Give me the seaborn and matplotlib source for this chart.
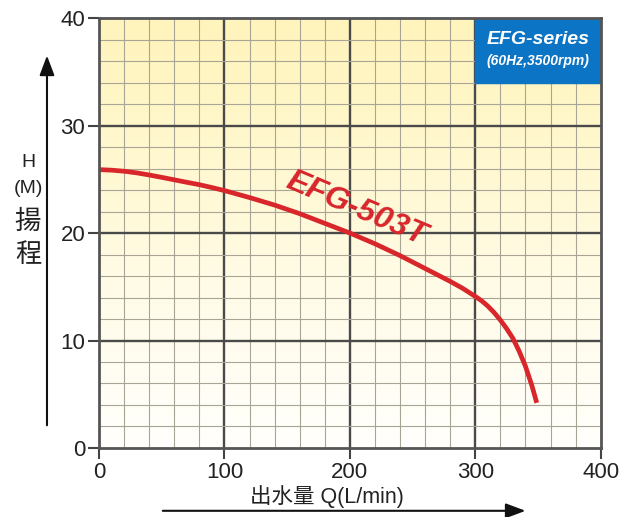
import numpy as np
import pandas as pd
import matplotlib
matplotlib.use('Agg')
import matplotlib.pyplot as plt
from matplotlib.colors import LinearSegmentedColormap
import seaborn as sns

# pump curve
flow = [0, 10, 20, 30, 40, 50, 60, 70, 80, 90, 100, 120, 140, 160, 180, 200,
        220, 240, 260, 280, 290, 300, 305, 310, 315, 320, 325, 330, 335, 340,
        345, 349]
head = [25.9, 25.85, 25.75, 25.6, 25.4, 25.18, 24.95, 24.72, 24.5, 24.23,
        23.95, 23.3, 22.6, 21.8, 20.9, 20.0, 19.0, 17.9, 16.7, 15.5, 14.85,
        14.1, 13.7, 13.2, 12.6, 11.9, 11.1, 10.2, 9.0, 7.6, 5.85, 4.2]
model = 'EFG-503T'
series_title = 'EFG-series'
series_sub = '(60Hz,3500rpm)'
x_ticks = [0, 100, 200, 300, 400]
y_ticks = [0, 10, 20, 30, 40]

df = pd.DataFrame({'Q': flow, 'H': head})

sns.set_style('white')
plt.rcParams['font.family'] = ['Liberation Sans', 'Noto Sans CJK TC', 'DejaVu Sans']

fig = plt.figure(figsize=(6.35, 5.17), dpi=100)
ax = fig.add_axes([0.156, 0.1335, 0.790, 0.8315])

# yellow-to-white background
cmap = LinearSegmentedColormap.from_list('bg', ['#fffffc', '#fffcea', '#fff8d0', '#fff4bb'])
grad = np.linspace(0, 1, 256).reshape(-1, 1)
ax.imshow(grad, extent=[0, 400, 0, 40], origin='lower', aspect='auto', cmap=cmap, zorder=0)

# grid
for xv in range(20, 400, 20):
    major = xv % 100 == 0
    ax.axvline(xv, color='#4a4a4a' if major else '#a8a597', lw=1.7 if major else 0.8, zorder=1)
for yv in range(2, 40, 2):
    major = yv % 10 == 0
    ax.axhline(yv, color='#4a4a4a' if major else '#a8a597', lw=1.7 if major else 0.8, zorder=1)

sns.lineplot(data=df, x='Q', y='H', color='#d8262b', lw=3.4, ax=ax, zorder=3,
             solid_joinstyle='round', solid_capstyle='butt')

ax.text(205, 22.25, model, color='#d8262b', fontsize=23, fontweight='bold', fontstyle='italic',
        rotation=-23, ha='center', va='center', rotation_mode='anchor', zorder=4)

# series box
ax.fill_between([300, 400], 34, 40, color='#0c74c4', zorder=2)
ax.text(350, 38.0, series_title, color='white', fontsize=14, fontweight='bold',
        fontstyle='italic', ha='center', va='center', zorder=4)
ax.text(350, 36.0, series_sub, color='white', fontsize=10, fontweight='bold',
        fontstyle='italic', ha='center', va='center', zorder=4)

ax.set_xlim(0, 400)
ax.set_ylim(0, 40)
ax.set_xticks(x_ticks)
ax.set_yticks(y_ticks)
ax.set_xlabel('')
ax.set_ylabel('')
ax.tick_params(axis='both', direction='out', length=8, width=1.5, color='#444444',
               labelsize=16, labelcolor='#222222', pad=2)
ax.tick_params(left=True, bottom=True)
for s in ax.spines.values():
    s.set_color('#555555')
    s.set_linewidth(2)
    s.set_zorder(5)

# axis labels with arrows
fig.text(0.044, 0.686, 'H', fontsize=14, ha='center', va='center', color='#222222')
fig.text(0.044, 0.636, '(M)', fontsize=14, ha='center', va='center', color='#222222')
fig.text(0.044, 0.571, '揚', fontsize=19, ha='center', va='center', color='#222222')
fig.text(0.044, 0.507, '程', fontsize=19, ha='center', va='center', color='#222222')
fig.text(0.515, 0.039, '出水量 Q(L/min)', fontsize=15.5, ha='center', va='center', color='#222222')

ax.annotate('', xy=(0.074, 0.898), xytext=(0.074, 0.172), xycoords='figure fraction',
            arrowprops=dict(arrowstyle='-|>,head_length=1.2,head_width=0.45', color='#111111', lw=1.5))
ax.annotate('', xy=(0.832, 0.012), xytext=(0.252, 0.012), xycoords='figure fraction',
            arrowprops=dict(arrowstyle='-|>,head_length=1.2,head_width=0.45', color='#111111', lw=1.5))

fig.savefig('out.png', dpi=100)
